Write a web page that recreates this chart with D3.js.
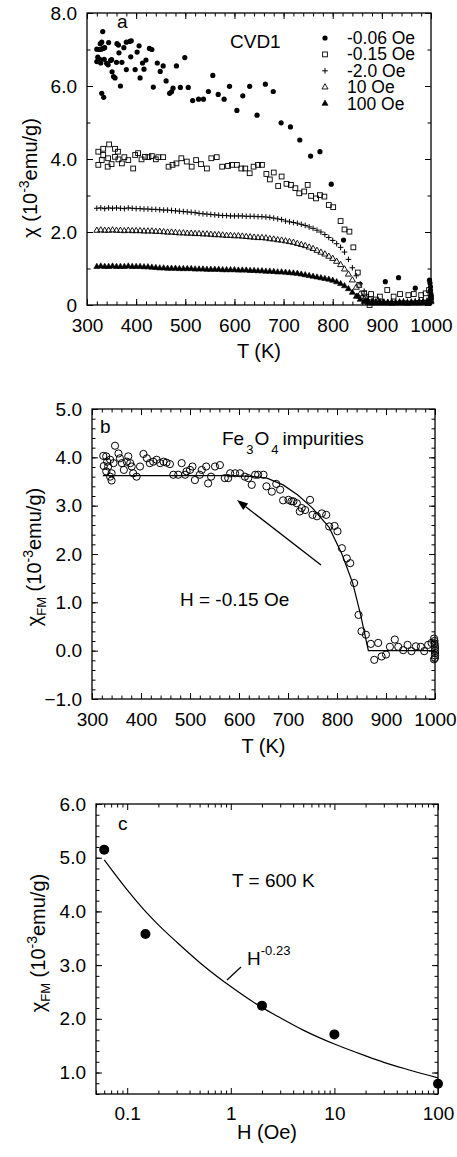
<!DOCTYPE html>
<html>
<head>
<meta charset="utf-8">
<script src="https://cdn.jsdelivr.net/npm/d3@7.9.0/dist/d3.min.js"></script>
<style>
  body { margin: 0; background: #fff; }
  text { font-family: "Liberation Sans", Arial, Helvetica, sans-serif; fill: #000; }
</style>
</head>
<body>
<svg id="fig" width="457" height="1157"></svg>
<script>
// ---------- data: panel a ----------
// field -0.06 Oe (filled circles), [T, chi]
const a_m006 = [[332,7.49],[320,7.01],[325,7.0],[329,7.01],[333,7.03],[336,7.05],[327,7.16],[330,7.2],[344,7.19],
  [322,6.79],[326,6.73],[320,6.67],[328,6.63],[335,6.73],[340,6.62],[348,6.70],[343,6.58],[350,6.72],[330,5.80],[334,5.69],
  [351,6.39],[354,6.26],[357,6.22],[361,7.16],[364,7.12],[371,6.65],[365,6.91],[375,7.05],[380,7.20],[387,7.22],[390,7.24],
  [368,6.00],[360,6.65],[380,6.45],[389,6.80],[398,6.45],[402,6.93],[406,7.10],[408,6.22],[413,6.63],[416,6.46],[420,6.71],
  [427,7.03],[432,7.00],[435,5.97],[443,6.63],[449,6.40],[455,6.55],[461,6.14],[468,5.80],[472,5.84],[475,5.94],[482,6.55],
  [490,5.96],[499,6.78],[506,5.96],[515,5.60],[527,5.64],[537,5.64],[547,5.85],[556,6.29],[567,5.77],[579,5.64],[590,5.99],
  [605,5.33],[617,5.73],[631,5.99],[646,5.20],[663,6.05],[679,5.85],[695,4.99],[714,4.88],[733,4.52],[755,4.08],[774,4.20],
  [797,3.31],[822,1.78],[850,0.25],[870,0.12],[907,0.64],[934,0.75],[968,0.46],[997,0.68],[998,0.6],[999,0.5],[999,0.4],
  [1000,0.3],[1000,0.2],[998,0.1]];
// field -0.15 Oe (open squares), [T, chi]
const a_m015 = [[323,4.2],[333,4.28],[345,4.40],[357,4.28],[363,4.2],[323,3.84],[330,3.97],[333,4.11],[342,3.79],[343,4.02],
  [350,3.86],[357,4.06],[364,3.99],[371,3.88],[376,4.05],[384,3.97],[394,3.74],[398,4.11],[404,4.16],[411,3.99],[418,4.06],
  [425,4.05],[432,4.08],[440,3.99],[445,4.05],[455,4.05],[466,3.79],[474,3.84],[482,3.88],[492,4.02],[503,3.93],[513,3.79],
  [522,3.97],[532,3.86],[544,3.74],[553,4.02],[564,4.05],[575,3.79],[587,3.81],[595,3.84],[605,3.84],[614,3.74],[622,3.74],
  [631,3.61],[639,3.79],[648,3.84],[656,3.84],[665,3.59],[672,3.44],[680,3.63],[689,3.26],[696,3.52],[706,3.32],[715,3.29],
  [724,3.20],[732,3.06],[742,3.11],[749,3.29],[756,2.99],[766,2.92],[774,3.01],[783,2.97],[792,2.74],[801,2.68],[816,2.30],
  [824,2.07],[834,2.01],[842,1.58],[851,0.89],[854,0.55],[864,0.32],[868,0.23],[875,0.0],[878,0.30],[888,0.15],[896,0.23],
  [911,0.41],[924,0.23],[937,0.30],[954,0.27],[965,0.30],[980,0.27],[989,0.32],[996,0.41],[1000,0.2]];
// common temperatures of the dense sweeps (-2.0, 10, 100 Oe)
const a_T = [320,328,336,344,352,360,368,376,384,392,400,408,416,424,432,440,448,456,464,472,480,488,496,504,512,520,
  528,536,544,552,560,568,576,584,592,600,608,616,624,632,640,648,656,664,672,680,688,696,704,712,720,728,736,744,752,
  760,768,776,784,792,800,808,816,824,832,840,848,856,864,872,880,888,896,904,912,920,928,936,944,952,960,968,976,984,992,1000];
const a_m2 = [2.65,2.66,2.64,2.66,2.65,2.66,2.65,2.64,2.66,2.65,2.64,
  2.64,2.63,2.63,2.62,2.62,2.61,2.60,2.60,2.59,2.58,2.57,2.56,
  2.55,2.54,2.53,2.51,2.50,2.49,2.48,2.47,2.46,2.45,2.45,2.44,2.44,
  2.44,2.44,2.43,2.43,2.43,2.42,2.42,2.41,2.40,2.38,2.36,2.34,
  2.30,2.28,2.26,2.24,2.21,2.18,2.14,2.10,2.05,2.00,1.93,1.85,1.77,
  1.68,1.58,1.45,1.25,1.02,0.80,0.58,0.38,0.22,0.14,0.11,0.10,
  0.10,0.09,0.10,0.09,0.10,0.11,0.10,0.10,0.11,0.12,0.12,0.13,0.15];
const a_10 = [2.04,2.05,2.04,2.04,2.05,2.04,2.04,2.03,2.04,2.03,2.03,
  2.03,2.02,2.02,2.02,2.01,2.01,2.00,1.99,1.99,1.98,1.97,1.97,
  1.96,1.96,1.95,1.95,1.94,1.94,1.93,1.92,1.92,1.91,1.90,1.90,1.89,
  1.89,1.88,1.87,1.86,1.85,1.84,1.84,1.83,1.81,1.80,1.78,1.77,
  1.75,1.73,1.71,1.68,1.65,1.62,1.58,1.54,1.49,1.44,1.39,1.33,1.27,
  1.19,1.10,0.98,0.84,0.68,0.48,0.30,0.16,0.10,0.08,0.07,0.07,
  0.07,0.06,0.07,0.06,0.07,0.07,0.06,0.07,0.07,0.08,0.08,0.09,0.12];
const a_100 = [1.05,1.06,1.05,1.05,1.06,1.05,1.05,1.05,1.06,1.05,1.05,
  1.05,1.04,1.04,1.03,1.02,1.01,1.01,1.00,1.00,1.00,0.99,0.99,
  0.99,0.99,0.98,0.98,0.98,0.97,0.97,0.97,0.97,0.96,0.96,0.96,0.96,
  0.95,0.95,0.95,0.94,0.94,0.93,0.93,0.92,0.92,0.91,0.90,0.90,
  0.89,0.88,0.87,0.86,0.84,0.82,0.80,0.78,0.76,0.74,0.72,0.70,0.67,
  0.63,0.58,0.52,0.44,0.34,0.23,0.15,0.09,0.06,0.05,0.05,0.05,
  0.05,0.05,0.04,0.05,0.05,0.05,0.04,0.05,0.05,0.05,0.06,0.06,0.08];
const legendLabels = ["-0.06 Oe", "-0.15 Oe", "-2.0 Oe", "10 Oe", "100 Oe"];

// ---------- data: panel b ----------
const b_pts = [[323,4.03],[329,4.02],[331,3.91],[337,3.95],[324,3.82],[333,3.81],[344,3.88],[347,4.24],[354,4.08],[357,3.98],
  [340,3.67],[329,3.71],[337,3.60],[340,3.52],[361,3.88],[365,3.74],[371,3.91],[378,3.88],[374,4.02],[384,3.67],[391,3.60],
  [381,3.81],[398,3.81],[405,4.07],[412,3.98],[418,3.88],[425,3.91],[432,3.95],[439,3.88],[446,3.91],[452,3.89],[459,3.86],
  [466,3.64],[476,3.64],[483,3.88],[490,3.64],[493,3.71],[500,3.74],[505,3.81],[510,3.53],[520,3.64],[524,3.74],[533,3.81],
  [537,3.46],[543,3.60],[551,3.81],[561,3.84],[571,3.57],[578,3.57],[582,3.67],[592,3.67],[602,3.67],[612,3.60],[619,3.57],
  [626,3.43],[633,3.64],[639,3.64],[650,3.64],[656,3.40],[667,3.29],[676,3.45],[684,3.33],[690,3.11],[701,3.12],[711,3.09],
  [718,3.05],[728,2.95],[735,2.91],[745,3.12],[707,3.09],[724,2.88],[750,2.81],[759,2.78],[769,2.84],[778,2.81],[784,2.57],
  [795,2.58],[801,2.47],[810,2.12],[820,1.91],[827,1.81],[835,1.40],[844,0.74],[850,0.40],[859,0.33],[869,0.14],[884,0.16],
  [876,-0.19],[891,-0.12],[900,-0.08],[908,0.08],[918,0.23],[925,0.08],[935,0.01],[944,0.12],[952,-0.01],[961,0.09],
  [971,0.08],[978,-0.01],[986,0.12],[993,0.16],[998,0.25],[999,0.15],[1000,0.05],[1000,-0.05],[1000,-0.15],[999,0.2],
  [1000,0.1],[1000,0],[1000,-0.1],[998,-0.18]];
const b_fitT   = [322, 588, 630, 657, 690, 720, 750, 784, 810, 832, 848, 864, 1000];
const b_fitChi = [3.62, 3.62, 3.60, 3.57, 3.43, 3.22, 2.95, 2.55, 2.00, 1.40, 0.75, 0.00, 0.00];

// ---------- data: panel c ----------
const c_H   = [0.06, 0.15, 2, 10, 100];
const c_chi = [5.15, 3.58, 2.245, 1.71, 0.79];
const c_fitH   = [0.06, 0.1, 0.15, 0.2, 0.3, 0.5, 1, 2, 3, 5, 10, 20, 30, 50, 100];
const c_fitChi = [4.96, 4.40, 4.00, 3.75, 3.43, 3.05, 2.60, 2.21, 2.02, 1.79, 1.53, 1.31, 1.19, 1.06, 0.90];

// tick values
const tTicks = [300, 400, 500, 600, 700, 800, 900, 1000];
const aYTicks = [0, 2, 4, 6, 8];
const bYTicks = [-1, 0, 1, 2, 3, 4, 5];
const cYTicks = [1, 2, 3, 4, 5, 6];
const cXTicks = [0.1, 1, 10, 100];

const svg = d3.select("#fig");
const FONT = '"Liberation Sans", Arial, Helvetica, sans-serif';

// axes on four sides, ticks pointing in
function axes(g, x, y, w, h, o) {
  const styleText = s => s.selectAll("text").attr("font-size", 19).attr("font-family", FONT).attr("fill", "#000");
  const add = (gen, tr) => {
    const a = g.append("g").attr("transform", tr).call(gen);
    a.select(".domain").remove();
    a.selectAll("line").attr("stroke", "#000").attr("stroke-width", 1);
    styleText(a);
    return a;
  };
  add(d3.axisBottom(x).tickValues(o.xMajor).tickSize(-6).tickPadding(o.xPad).tickFormat(o.xFmt), `translate(0,${h})`);
  add(d3.axisBottom(x).tickValues(o.xMinor).tickSize(-3.5).tickFormat(""), `translate(0,${h})`);
  add(d3.axisTop(x).tickValues(o.xMajor).tickSize(-6).tickFormat(""), "translate(0,0)");
  add(d3.axisTop(x).tickValues(o.xMinor).tickSize(-3.5).tickFormat(""), "translate(0,0)");
  add(d3.axisLeft(y).tickValues(o.yMajor).tickSize(-6).tickPadding(10).tickFormat(o.yFmt), "translate(0,0)");
  add(d3.axisLeft(y).tickValues(o.yMinor).tickSize(-3.5).tickFormat(""), "translate(0,0)");
  add(d3.axisRight(y).tickValues(o.yMajor).tickSize(-6).tickFormat(""), `translate(${w},0)`);
  add(d3.axisRight(y).tickValues(o.yMinor).tickSize(-3.5).tickFormat(""), `translate(${w},0)`);
  g.append("rect").attr("width", w).attr("height", h)
    .attr("fill", "none").attr("stroke", "#000").attr("stroke-width", 1.3);
}

// symbols
const tri = d3.symbol(d3.symbolTriangle, 16)();
function drawMark(sel, kind) {
  if (kind === "dot") sel.append("circle").attr("r", 2.6).attr("fill", "#000");
  else if (kind === "square") sel.append("rect").attr("x", -2.4).attr("y", -2.4).attr("width", 4.8).attr("height", 4.8)
      .attr("fill", "none").attr("stroke", "#000").attr("stroke-width", 0.9);
  else if (kind === "plus") sel.append("path").attr("d", "M-2.8,0H2.8M0,-2.8V2.8").attr("stroke", "#000").attr("stroke-width", 1);
  else if (kind === "tri") sel.append("path").attr("d", tri).attr("fill", "none").attr("stroke", "#000").attr("stroke-width", 0.9);
  else if (kind === "trifill") sel.append("path").attr("d", tri).attr("fill", "#000").attr("stroke", "#000").attr("stroke-width", 0.6);
}
function scatter(g, pts, kind) {
  g.append("g").selectAll("g").data(pts).enter().append("g")
    .attr("transform", d => `translate(${d[0]},${d[1]})`)
    .each(function () { drawMark(d3.select(this), kind); });
}

function yTitle(x, y, sub) {
  const t = svg.append("text").attr("transform", `translate(${x},${y}) rotate(-90)`)
    .attr("text-anchor", "middle").attr("font-size", 20);
  t.append("tspan").text("χ");
  if (sub) {
    t.append("tspan").attr("font-size", 13).attr("dy", 5).text("FM");
    t.append("tspan").attr("dy", -5).text(" (10");
  } else {
    t.append("tspan").text(" (10");
  }
  t.append("tspan").attr("font-size", 14).attr("dy", -8).text("-3");
  t.append("tspan").attr("dy", 8).text("emu/g)");
}
function xTitle(x, y, str) {
  svg.append("text").attr("x", x).attr("y", y).attr("text-anchor", "middle")
    .attr("font-size", 20).attr("xml:space", "preserve").text(str);
}

const minorT = d3.range(300, 1001, 20);

// ================= panel a =================
{
  const L = 87, T = 13, R = 431, B = 305, w = R - L, h = B - T;
  const g = svg.append("g").attr("transform", `translate(${L},${T})`);
  const x = d3.scaleLinear().domain([300, 1000]).range([0, w]);
  const y = d3.scaleLinear().domain([0, 8]).range([h, 0]);
  axes(g, x, y, w, h, {
    xMajor: tTicks, xMinor: minorT, xPad: 14, xFmt: d3.format("d"),
    yMajor: aYTicks, yMinor: d3.range(0, 8.01, 1), yFmt: d => d === 0 ? "0" : d3.format(".1f")(d)
  });
  scatter(g, a_100.map((v, i) => [x(a_T[i]), y(v)]), "trifill");
  scatter(g, a_10.map((v, i) => [x(a_T[i]), y(v)]), "tri");
  scatter(g, a_m2.map((v, i) => [x(a_T[i]), y(v)]), "plus");
  scatter(g, a_m015.map(d => [x(d[0]), y(d[1])]), "square");
  scatter(g, a_m006.map(d => [x(d[0]), y(d[1])]), "dot");

  g.append("text").attr("x", 30).attr("y", 15).attr("font-size", 19).text("a");
  g.append("text").attr("x", 143).attr("y", 35).attr("font-size", 19).text("CVD1");
  const kinds = ["dot", "square", "plus", "tri", "trifill"];
  legendLabels.forEach((lab, i) => {
    const cy = 25 + i * 16.4;
    drawMark(g.append("g").attr("transform", `translate(238,${cy})`), kinds[i]);
    g.append("text").attr("x", 260).attr("y", cy + 6).attr("font-size", 17.5).text(lab);
  });
  xTitle((L + R) / 2, 358, "T (K)");
  yTitle(37, 178, false);
}

// ================= panel b =================
{
  const L = 92, T = 409, R = 435, B = 699, w = R - L, h = B - T;
  const g = svg.append("g").attr("transform", `translate(${L},${T})`);
  const x = d3.scaleLinear().domain([300, 1000]).range([0, w]);
  const y = d3.scaleLinear().domain([-1, 5]).range([h, 0]);
  axes(g, x, y, w, h, {
    xMajor: tTicks, xMinor: minorT, xPad: 14, xFmt: d3.format("d"),
    yMajor: bYTicks, yMinor: d3.range(-1, 5.01, 0.2), yFmt: d3.format(".1f")
  });
  const line = d3.line().x((d, i) => x(b_fitT[i])).y(d => y(d));
  g.append("path").attr("d", line(b_fitChi)).attr("fill", "none").attr("stroke", "#000").attr("stroke-width", 1.2);
  g.selectAll("circle.pt").data(b_pts).enter().append("circle").attr("class", "pt")
    .attr("cx", d => x(d[0])).attr("cy", d => y(d[1])).attr("r", 3.6)
    .attr("fill", "none").attr("stroke", "#000").attr("stroke-width", 1);

  g.append("text").attr("x", 8).attr("y", 24).attr("font-size", 19).text("b");
  const fe = g.append("text").attr("x", 130).attr("y", 36).attr("font-size", 19);
  fe.append("tspan").text("Fe");
  fe.append("tspan").attr("font-size", 13).attr("dy", 9).attr("dx", 2).text("3");
  fe.append("tspan").attr("dy", -9).attr("dx", 1).text("O");
  fe.append("tspan").attr("font-size", 13).attr("dy", 9).attr("dx", 2).text("4");
  fe.append("tspan").attr("dy", -9).attr("dx", 4).text("impurities");

  // arrow
  const x0 = 229, y0 = 156, x1 = 145, y1 = 91;
  const ang = Math.atan2(y1 - y0, x1 - x0), hl = 11, hw = 4;
  const bx = x1 - hl * Math.cos(ang), by = y1 - hl * Math.sin(ang);
  g.append("line").attr("x1", x0).attr("y1", y0).attr("x2", bx).attr("y2", by).attr("stroke", "#000").attr("stroke-width", 1.3);
  g.append("path").attr("fill", "#000").attr("d",
    `M${x1},${y1}L${bx + hw * Math.sin(ang)},${by - hw * Math.cos(ang)}L${bx - hw * Math.sin(ang)},${by + hw * Math.cos(ang)}Z`);
  g.append("text").attr("x", 88).attr("y", 197).attr("font-size", 19).text("H = -0.15 Oe");

  xTitle((L + R) / 2, 753, "T (K)");
  yTitle(41, 557, true);
}

// ================= panel c =================
{
  const L = 96, T = 804, R = 438, B = 1094, w = R - L, h = B - T;
  const g = svg.append("g").attr("transform", `translate(${L},${T})`);
  const x = d3.scaleLog().domain([0.05, 100]).range([0, w]);
  const y = d3.scaleLinear().domain([0.6, 6]).range([h, 0]);
  const minorH = x.ticks().filter(d => !cXTicks.includes(d) && d >= 0.05);
  axes(g, x, y, w, h, {
    xMajor: cXTicks, xMinor: minorH, xPad: 12.5, xFmt: d => d < 1 ? String(d) : d3.format("d")(d),
    yMajor: cYTicks, yMinor: d3.range(0.6, 6.01, 0.2), yFmt: d3.format(".1f")
  });
  const line = d3.line().x((d, i) => x(c_fitH[i])).y(d => y(d)).curve(d3.curveMonotoneX);
  g.append("path").attr("d", line(c_fitChi)).attr("fill", "none").attr("stroke", "#000").attr("stroke-width", 1.2);
  g.selectAll("circle.pt").data(c_H).enter().append("circle").attr("class", "pt")
    .attr("cx", d => x(d)).attr("cy", (d, i) => y(c_chi[i])).attr("r", 5).attr("fill", "#000");

  g.append("text").attr("x", 22).attr("y", 26).attr("font-size", 19).text("c");
  g.append("text").attr("x", 136).attr("y", 83).attr("font-size", 19).text("T = 600 K");
  const hl = g.append("text").attr("x", 151).attr("y", 161).attr("font-size", 19);
  hl.append("tspan").text("H");
  hl.append("tspan").attr("font-size", 13).attr("dy", -10).text("-0.23");
  g.append("line").attr("x1", 131).attr("y1", 176).attr("x2", 145).attr("y2", 163)
    .attr("stroke", "#000").attr("stroke-width", 1.2);

  xTitle((L + R) / 2, 1139, "H (Oe)");
  yTitle(45, 943, true);
}
</script>
</body>
</html>
